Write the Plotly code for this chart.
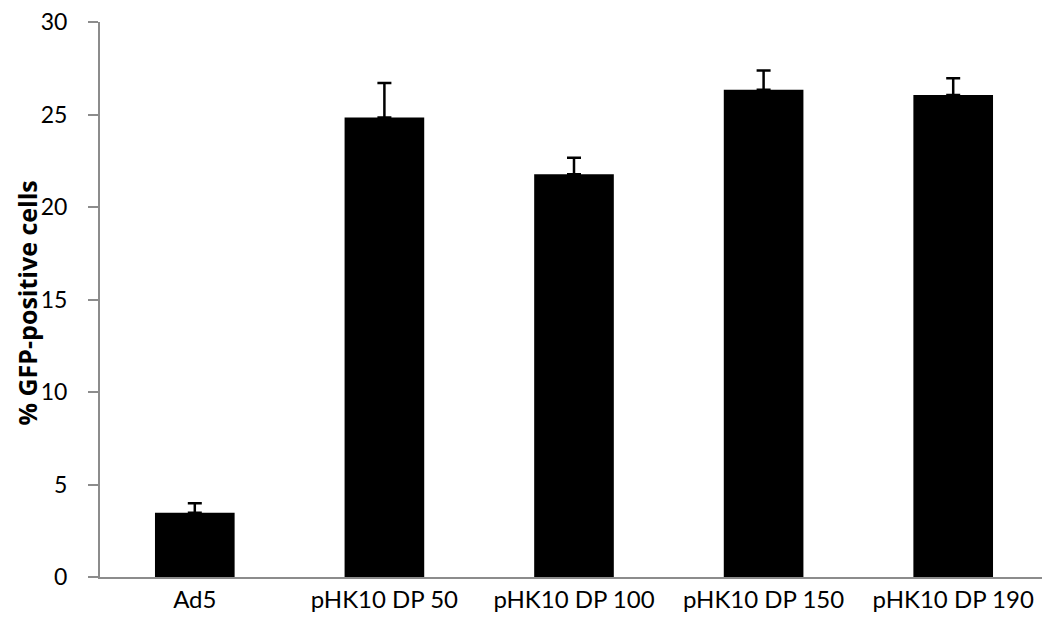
import plotly.graph_objects as go

categories = ["Ad5", "pHK10 DP 50", "pHK10 DP 100", "pHK10 DP 150", "pHK10 DP 190"]
gfp_positive = [3.47, 24.84, 21.77, 26.34, 26.06]
gfp_error = [0.51, 1.86, 0.89, 1.04, 0.90]
y_ticks = [0, 5, 10, 15, 20, 25, 30]

fig = go.Figure()
fig.add_trace(go.Bar(
    x=categories,
    y=gfp_positive,
    width=0.42,
    marker=dict(color="black", line=dict(width=0)),
    error_y=dict(
        type="data",
        symmetric=False,
        array=gfp_error,
        arrayminus=[0] * len(gfp_error),
        color="black",
        thickness=2.5,
        width=7,
    ),
))

# page body has an 8px margin, so the plot margins are shifted to compensate
fig.update_layout(
    width=1050,
    height=633,
    margin=dict(l=92, r=10, t=14, b=64),
    plot_bgcolor="white",
    paper_bgcolor="white",
    font=dict(family="Lato, Open Sans, sans-serif", size=24, color="black"),
    showlegend=False,
)
fig.update_xaxes(
    automargin=False,
    showline=True,
    linecolor="#8c8c8c",
    linewidth=2,
    ticks="",
    showgrid=False,
    tickfont=dict(size=24),
)
fig.update_yaxes(
    automargin=False,
    range=[0, 30],
    tickvals=y_ticks,
    showline=True,
    linecolor="#8c8c8c",
    linewidth=2,
    ticks="outside",
    ticklen=10,
    tickwidth=2,
    tickcolor="#8c8c8c",
    showgrid=False,
    zeroline=False,
    ticklabelstandoff=16,
    ticklabeloverflow="allow",
    tickfont=dict(size=23),
)

fig.add_annotation(
    text="<b>% GFP-positive cells</b>",
    xref="paper", yref="paper",
    x=0, y=0.5,
    xanchor="center", yanchor="middle",
    xshift=-74, yshift=-4,
    textangle=-90,
    showarrow=False,
    font=dict(family="Open Sans, sans-serif", size=25, color="black"),
)

fig.write_html("out.html")
